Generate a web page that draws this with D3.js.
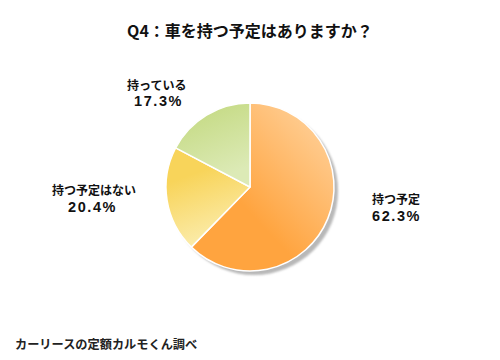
<!DOCTYPE html>
<html><head><meta charset="utf-8">
<script src="https://cdn.jsdelivr.net/npm/d3@7"></script>
<style>body{margin:0;background:#fff}svg{display:block}</style>
</head><body>
<script>
const categories = ["持つ予定", "持つ予定はない", "持っている"];
const values = [62.3, 20.4, 17.3];
const valueLabels = ["62.3%", "20.4%", "17.3%"];
const title = "Q4：車を持つ予定はありますか？";
const source = "カーリースの定額カルモくん調べ";

const W = 500, H = 360, cx = 250, cy = 187, R = 84;
const font = "'Noto Sans CJK JP', 'Noto Sans', sans-serif";
const numFont = "'Liberation Sans', Arial, sans-serif";
const svg = d3.select("body").append("svg").attr("width", W).attr("height", H);
const defs = svg.append("defs");
const grads = [
  {id:"g0", x1:"80%", y1:"10%", x2:"35%", y2:"60%", c1:"#FFCB8E", c2:"#FFA43F"},
  {id:"g1", x1:"20%", y1:"30%", x2:"40%", y2:"95%", c1:"#F8D45A", c2:"#FBEBA8"},
  {id:"g2", x1:"30%", y1:"10%", x2:"60%", y2:"90%", c1:"#C6DB86", c2:"#DCEAB6"}
];
grads.forEach(g => {
  const lg = defs.append("linearGradient").attr("id", g.id)
    .attr("x1", g.x1).attr("y1", g.y1).attr("x2", g.x2).attr("y2", g.y2);
  lg.append("stop").attr("offset", "0%").attr("stop-color", g.c1);
  lg.append("stop").attr("offset", "100%").attr("stop-color", g.c2);
});
defs.append("filter").attr("id","blur").append("feGaussianBlur").attr("stdDeviation", 1.2);

svg.append("text").attr("x", 250).attr("y", 37).attr("text-anchor", "middle")
  .attr("font-family", font).attr("font-weight", "bold").attr("font-size", 16).attr("fill", "#111")
  .text(title);

const pie = d3.pie().sort(null).value(d => d);
const arcs = pie(values);
const arc = d3.arc().innerRadius(0).outerRadius(R);

svg.append("circle").attr("cx", cx + 4).attr("cy", cy + 4).attr("r", R)
  .attr("fill", "#b8b8b8").attr("filter", "url(#blur)");

const g = svg.append("g").attr("transform", `translate(${cx},${cy})`);
g.selectAll("path").data(arcs).join("path")
  .attr("d", arc)
  .attr("fill", (d, i) => `url(#g${i})`)
  .attr("stroke", "#fff").attr("stroke-width", 1.5).attr("stroke-linejoin", "round");

const labelPos = [[372, 204], [52, 195], [127, 90]];
const valuePos = [[372, 221], [68, 212], [134, 106]];
categories.forEach((c, i) => {
  svg.append("text").attr("x", labelPos[i][0]).attr("y", labelPos[i][1])
    .attr("font-family", font).attr("font-weight", "bold").attr("font-size", 12).attr("fill", "#111").text(c);
  svg.append("text").attr("x", valuePos[i][0]).attr("y", valuePos[i][1])
    .attr("font-family", numFont).attr("font-weight", "bold").attr("font-size", 14.5)
    .attr("letter-spacing", 1.6).attr("fill", "#111").text(valueLabels[i]);
});

svg.append("text").attr("x", 15).attr("y", 349)
  .attr("font-family", font).attr("font-weight", "bold").attr("font-size", 12.2).attr("fill", "#222")
  .text(source);
</script>
</body></html>
